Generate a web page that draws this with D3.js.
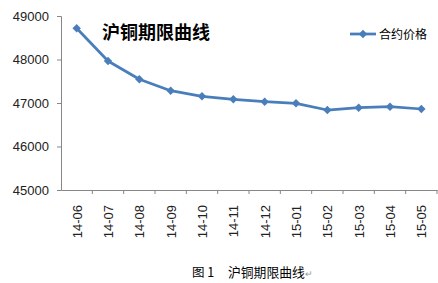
<!DOCTYPE html>
<html>
<head>
<meta charset="utf-8">
<script src="https://cdn.jsdelivr.net/npm/d3@7"></script>
<style>
  body { margin: 0; background: #fff; }
  text { font-family: "Liberation Sans", Arial, "Noto Sans CJK SC", sans-serif; }
  .cjk { font-family: "Noto Sans CJK SC", sans-serif; }
</style>
</head>
<body>
<div id="chart"></div>
<script>
const months = ["14-06", "14-07", "14-08", "14-09", "14-10", "14-11", "14-12", "15-01", "15-02", "15-03", "15-04", "15-05"];
const prices = [48720, 47965, 47545, 47283, 47154, 47085, 47030, 46993, 46839, 46892, 46915, 46862];
const yTicks = [45000, 46000, 47000, 48000, 49000];

const W = 438, H = 283;
const margin = { top: 16, right: 1, bottom: 93, left: 61 };
const width = W - margin.left - margin.right,
    height = H - margin.top - margin.bottom;

const svg = d3.select("#chart")
    .append("svg")
    .attr("width", W)
    .attr("height", H);

const g = svg.append("g")
    .attr("transform", `translate(${margin.left},${margin.top})`);

const xScale = d3.scaleBand()
    .domain(months)
    .range([0, width]);

const yScale = d3.scaleLinear()
    .domain([45000, 49000])
    .range([height, 0]);

const axisColor = "#868686";

// y axis
const yAxis = g.append("g")
    .call(d3.axisLeft(yScale).tickValues(yTicks).tickSize(4).tickPadding(8).tickFormat(d3.format("d")));
yAxis.select(".domain").attr("stroke", axisColor);
yAxis.selectAll(".tick line").attr("stroke", axisColor);
yAxis.selectAll("text").style("font-size", "13px").attr("fill", "#222");

// x axis, ticks sit on the band edges
const xAxis = g.append("g")
    .attr("transform", `translate(0, ${height})`)
    .call(d3.axisBottom(xScale).tickSize(0).tickFormat(""));
xAxis.select(".domain").attr("stroke", axisColor);
xAxis.selectAll(".tick").remove();

g.append("g")
    .selectAll("line")
    .data(months)
    .join("line")
    .attr("x1", d => xScale(d) + xScale.bandwidth())
    .attr("x2", d => xScale(d) + xScale.bandwidth())
    .attr("y1", height)
    .attr("y2", height + 4)
    .attr("stroke", axisColor);

g.append("g")
    .selectAll("text")
    .data(months)
    .join("text")
    .attr("transform", d => `translate(${xScale(d) + xScale.bandwidth() / 2 + 5}, ${height + 15}) rotate(-90)`)
    .attr("text-anchor", "end")
    .style("font-size", "13px")
    .attr("fill", "#222")
    .text(d => d);

// line
const lineColor = "#4a7ebb";
const line = d3.line()
    .x((d, i) => xScale(months[i]) + xScale.bandwidth() / 2)
    .y(d => yScale(d));

g.append("path")
    .datum(prices)
    .attr("fill", "none")
    .attr("stroke", lineColor)
    .attr("stroke-width", 2.75)
    .attr("stroke-linejoin", "round")
    .attr("d", line);

const diamond = d3.symbol().type(d3.symbolDiamond2).size(45);
g.append("g")
    .selectAll("path")
    .data(prices)
    .join("path")
    .attr("d", diamond)
    .attr("transform", (d, i) => `translate(${xScale(months[i]) + xScale.bandwidth() / 2},${yScale(d)})`)
    .attr("fill", lineColor);

// title inside plot
svg.append("text")
    .attr("class", "cjk")
    .attr("x", 102)
    .attr("y", 39)
    .style("font-size", "18px")
    .style("font-weight", "bold")
    .attr("fill", "#000")
    .text("沪铜期限曲线");

// legend
svg.append("line")
    .attr("x1", 350).attr("x2", 376)
    .attr("y1", 34).attr("y2", 34)
    .attr("stroke", lineColor)
    .attr("stroke-width", 2.75);
svg.append("path")
    .attr("d", diamond)
    .attr("transform", "translate(363,34)")
    .attr("fill", lineColor);
svg.append("text")
    .attr("class", "cjk")
    .attr("x", 379)
    .attr("y", 39)
    .style("font-size", "12px")
    .attr("fill", "#000")
    .text("合约价格");

// caption
svg.append("text")
    .attr("class", "cjk")
    .attr("x", 192)
    .attr("y", 277)
    .style("font-size", "12.5px")
    .attr("fill", "#000")
    .text("图 1");
svg.append("text")
    .attr("class", "cjk")
    .attr("x", 228)
    .attr("y", 277)
    .style("font-size", "12.8px")
    .attr("fill", "#000")
    .text("沪铜期限曲线");
svg.append("text")
    .attr("x", 305)
    .attr("y", 277)
    .style("font-size", "9px")
    .attr("fill", "#999")
    .text("↵");
</script>
</body>
</html>
